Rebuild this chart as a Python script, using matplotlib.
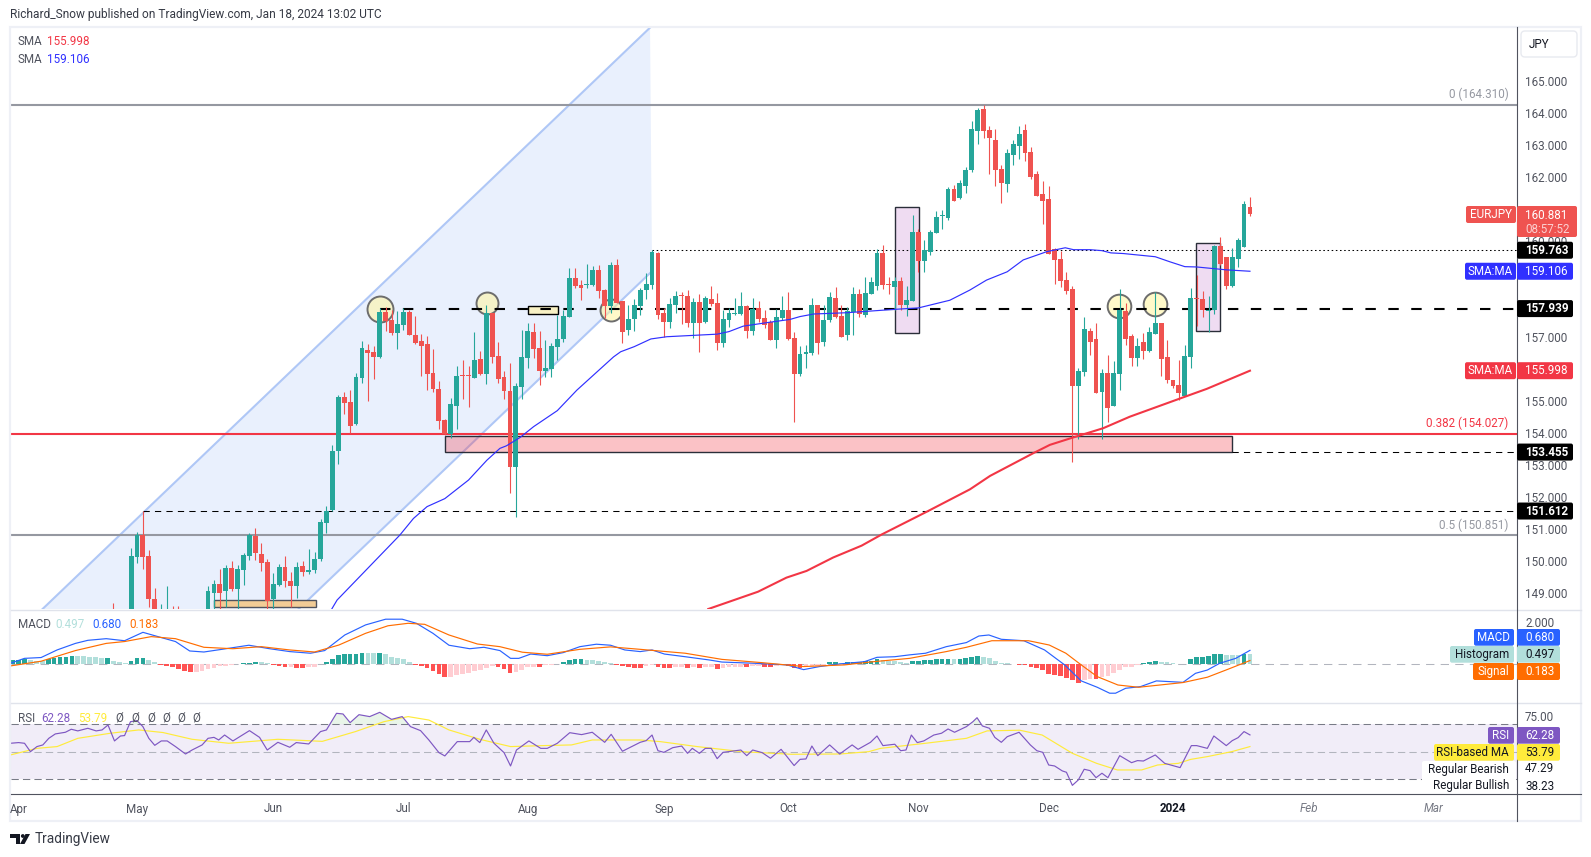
import numpy as np
import matplotlib
matplotlib.use('Agg')
import matplotlib.pyplot as plt
from matplotlib.patches import Rectangle, FancyBboxPatch, Polygon, Circle
from matplotlib.colors import to_rgba

W, H = 1591, 857
UP, DOWN = '#26a69a', '#ef5350'

# candles, one per weekday; index 0 is Apr 3 2023, first one listed here is index 16
first_candle = 16
opens = [
    148.0, 147.7, 147.9, 148.2,
    150.19, 150.86, 150.21, 148.86, 148.0, 148.1, 148.5, 148.3, 148.0, 147.5,
    147.2, 147.7, 148.2, 149.06, 149.33, 149.12, 149.83, 149.18, 149.77, 150.22,
    150.84, 150.27, 150.02, 148.85, 149.30, 149.86, 149.43, 149.28, 149.89, 149.72,
    149.77, 150.11, 151.25, 151.64, 153.49, 155.18, 155.02, 154.33, 155.77, 156.65,
    156.58, 156.43, 157.83, 157.58, 157.18, 157.43, 157.83, 157.11, 156.92, 156.83,
    155.93, 155.42, 154.46, 154.02, 154.89, 155.86, 155.86, 155.77, 156.36, 155.89,
    157.80, 156.46, 155.80, 155.36, 152.99, 155.49, 156.39, 157.20, 156.71, 155.99,
    156.05, 156.74, 156.99, 157.68, 158.89, 158.68, 158.68, 158.68, 159.14, 158.52,
    158.02, 159.30, 158.18, 157.27, 157.61, 158.02, 158.52, 158.68, 159.68, 157.80,
    157.52, 158.05, 158.36, 158.33, 157.49, 158.14, 157.52, 158.24, 158.11, 156.86,
    157.58, 157.77, 157.77, 158.02, 157.24, 157.96, 157.64, 157.52, 156.96, 157.64,
    157.89, 157.02, 155.89, 156.52, 156.55, 158.05, 156.89, 157.58, 158.27, 157.71,
    157.11, 157.83, 158.39, 157.74, 158.39, 158.64, 159.68, 158.71, 158.61, 158.80,
    158.05, 158.18, 160.33, 159.43, 159.71, 160.30, 160.83, 160.77, 161.68, 161.40,
    161.77, 162.27, 163.49, 164.18, 163.52, 163.21, 162.30, 161.83, 162.74, 163.02,
    163.52, 162.83, 162.15, 161.52, 161.36, 159.80, 159.49, 158.83, 158.55, 155.52,
    155.96, 157.24, 156.99, 155.33, 155.92, 154.89, 155.89, 157.86, 157.08, 156.39,
    156.89, 156.61, 157.14, 157.49, 156.42, 155.71, 155.55, 155.20, 156.43, 158.27,
    158.24, 157.86, 157.89, 159.90, 159.55, 158.64, 159.49, 159.87, 161.11]
closes = [
    147.7, 147.9, 148.2, 150.21,
    150.86, 150.19, 148.86, 148.4, 148.5, 148.55, 148.3, 148.0, 147.5, 147.2,
    147.7, 148.2, 149.11, 149.33, 149.06, 149.83, 149.18, 149.80, 150.24, 150.86,
    150.31, 150.00, 148.8, 149.33, 149.86, 149.43, 149.28, 149.86, 149.72, 149.77,
    150.11, 151.27, 151.61, 153.49, 155.18, 154.99, 154.27, 155.80, 156.71, 156.55,
    156.43, 157.83, 157.55, 157.18, 157.46, 157.83, 157.11, 156.86, 156.77, 155.89,
    155.42, 154.42, 154.02, 154.96, 155.83, 155.83, 155.83, 156.33, 155.89, 157.80,
    156.43, 155.74, 155.36, 152.99, 155.52, 156.43, 157.24, 156.68, 155.99, 156.08,
    156.77, 156.99, 157.70, 158.89, 158.64, 158.58, 158.70, 159.14, 158.49, 158.02,
    159.30, 158.11, 157.21, 157.60, 158.05, 158.52, 158.70, 159.71, 157.74, 157.52,
    158.08, 158.33, 158.33, 157.49, 158.14, 157.49, 158.27, 158.08, 156.86, 157.61,
    157.80, 157.80, 158.02, 157.24, 157.93, 157.61, 157.43, 156.96, 157.68, 157.89,
    156.99, 155.89, 156.52, 156.58, 158.05, 156.86, 157.58, 158.30, 157.68, 157.05,
    157.86, 158.39, 157.77, 158.43, 158.77, 159.68, 158.68, 158.68, 158.80, 158.05,
    158.21, 160.33, 159.43, 159.77, 160.33, 160.80, 160.86, 161.68, 161.30, 161.86,
    162.27, 163.55, 164.15, 163.49, 163.27, 162.27, 161.86, 162.80, 163.08, 163.40,
    162.80, 162.05, 161.46, 161.30, 159.65, 159.46, 158.80, 158.49, 155.52, 155.99,
    157.30, 156.89, 155.30, 155.92, 154.83, 155.92, 157.90, 156.99, 156.39, 156.77,
    156.61, 157.21, 157.49, 156.36, 155.71, 155.52, 155.30, 156.46, 158.27, 158.24,
    157.89, 157.89, 159.90, 159.33, 158.64, 159.55, 160.08, 161.21, 160.881]
highs = [
    148.75, 148.2, 148.4, 150.45,
    150.95, 151.612, 150.39, 149.2, 148.7, 149.27, 148.65, 148.65, 148.3, 147.9,
    147.8, 148.3, 149.27, 149.46, 149.80, 149.92, 150.05, 149.92, 150.31, 150.92,
    151.08, 150.61, 150.11, 149.68, 149.96, 150.21, 149.72, 150.02, 150.05, 150.43,
    150.33, 151.36, 151.77, 153.68, 155.24, 155.33, 155.40, 155.93, 156.93, 156.83,
    156.77, 157.95, 157.99, 157.90, 157.86, 157.96, 157.91, 157.71, 157.16, 157.08,
    156.68, 155.67, 154.49, 155.14, 156.14, 156.33, 156.14, 157.21, 156.61, 158.05,
    157.80, 156.89, 155.99, 156.24, 155.61, 157.27, 157.49, 157.49, 157.24, 156.95,
    156.86, 157.74, 157.89, 159.21, 159.21, 158.83, 159.33, 159.27, 159.30, 158.55,
    159.39, 159.49, 158.18, 158.05, 158.24, 158.58, 159.05, 159.77, 159.71, 157.96,
    158.27, 158.49, 158.46, 158.52, 158.27, 158.39, 158.33, 158.65, 158.43, 157.89,
    157.96, 158.27, 158.46, 158.05, 158.27, 158.18, 157.89, 157.58, 157.93, 158.33,
    158.46, 157.21, 156.77, 156.80, 158.27, 158.05, 158.05, 158.46, 158.61, 158.05,
    157.99, 158.61, 158.55, 158.93, 158.93, 159.80, 159.93, 158.93, 158.93, 158.93,
    158.64, 160.86, 160.43, 160.08, 160.40, 160.99, 161.02, 161.74, 161.80, 161.96,
    162.37, 163.80, 164.21, 164.31, 163.65, 163.55, 162.43, 162.93, 163.21, 163.65,
    163.71, 162.99, 162.24, 161.93, 161.77, 159.83, 159.74, 159.08, 158.64, 156.08,
    157.68, 157.33, 157.49, 156.05, 156.49, 156.30, 158.55, 158.11, 157.14, 157.02,
    157.18, 157.36, 158.46, 157.49, 156.96, 155.71, 156.33, 156.80, 158.58, 158.99,
    158.49, 158.33, 159.93, 160.18, 159.55, 159.83, 160.15, 161.30, 161.43]
lows = [
    147.6, 147.4, 147.7, 148.0,
    150.00, 149.80, 148.6, 148.3, 147.8, 147.9, 148.0, 147.9, 147.3, 147.0,
    147.0, 147.5, 148.2, 148.5, 148.4, 148.6, 149.12, 148.4, 149.30, 150.08,
    150.08, 149.75, 148.55, 148.55, 149.27, 149.25, 148.6, 148.9, 149.59, 149.64,
    149.69, 150.05, 150.92, 151.62, 153.08, 154.65, 154.04, 154.30, 155.61, 155.05,
    155.74, 156.40, 157.24, 157.1, 156.68, 157.27, 157.11, 156.83, 155.83, 155.39,
    155.33, 154.17, 153.99, 153.89, 154.17, 155.11, 154.86, 155.77, 155.86, 155.58,
    156.24, 155.61, 155.11, 152.17, 151.42, 155.11, 156.08, 156.39, 155.55, 155.80,
    155.80, 156.33, 156.89, 157.68, 158.58, 158.21, 158.58, 158.64, 158.27, 157.64,
    157.79, 158.11, 156.86, 157.11, 157.24, 157.74, 158.24, 158.55, 157.61, 157.05,
    157.33, 157.80, 157.46, 157.36, 157.02, 156.58, 157.49, 158.02, 156.64, 156.74,
    157.36, 157.74, 157.74, 157.02, 157.11, 157.52, 157.33, 156.96, 156.71, 157.58,
    156.96, 154.39, 155.83, 156.08, 156.49, 156.52, 156.77, 157.52, 157.64, 157.05,
    156.96, 157.11, 157.68, 157.68, 158.39, 158.52, 158.55, 158.39, 157.89, 157.89,
    157.71, 158.18, 159.08, 159.08, 159.61, 160.30, 160.43, 160.71, 161.30, 161.36,
    161.55, 162.21, 163.08, 163.27, 162.15, 161.77, 161.24, 161.58, 162.43, 162.61,
    162.55, 161.99, 161.46, 160.58, 159.65, 158.71, 158.61, 158.39, 153.14, 153.86,
    155.83, 156.49, 155.30, 153.86, 154.39, 154.89, 155.39, 156.80, 156.14, 156.14,
    156.36, 156.58, 157.14, 155.83, 155.61, 155.46, 155.08, 155.20, 156.08, 157.39,
    157.68, 157.21, 157.77, 159.30, 158.55, 158.61, 159.24, 159.87, 160.83]

sma50_idx = [52.9, 53.8, 64.4, 66.7, 69, 72, 76, 79.1, 81.3, 82.4, 84.7, 87, 91, 94.3, 100.5, 101.7,
             104, 106.8, 109.5, 118, 120, 122.4, 126.4, 130.3, 132, 134.3, 139.9, 148.4, 152,
             157.3, 160.7, 163.5, 167, 169.7, 173.7, 176.8, 178.2, 181, 183, 184.5, 186.6, 192,
             194.5, 197, 199, 204, 208]
sma50 = [148.55, 148.83, 150.86, 151.38, 151.75, 152.0, 152.58, 153.2, 153.57, 153.65, 153.91, 154.25,
         154.75, 155.39, 156.43, 156.59, 156.75, 156.99, 157.06, 157.14, 157.22, 157.39, 157.5, 157.6,
         157.69, 157.77, 157.81, 157.92, 157.96, 158.2, 158.52, 158.83, 159.09, 159.46, 159.72, 159.84,
         159.78, 159.78, 159.75, 159.68, 159.66, 159.56, 159.4, 159.25, 159.24, 159.15, 159.106]

sma200_idx = [116.5, 124.9, 129.7, 133.1, 137.6, 142.4, 145.8, 153.4, 160.7, 164.1, 171.4, 174.2, 177.6,
              183.2, 187.7, 196.2, 200.7, 208]
sma200 = [148.55, 149.09, 149.53, 149.74, 150.16, 150.53, 150.88, 151.59, 152.29, 152.71, 153.42, 153.68,
          153.88, 154.2, 154.56, 155.13, 155.43, 155.998]

macd_idx = [-1.4, 1, 3.8, 6.5, 9.6, 11.7, 14.8, 17.9, 21, 24.4, 26.5, 28.9, 31.3, 34.1, 38.9, 42.4, 45.8,
            49.3, 51.7, 55.1, 58.6, 62, 64.8, 67.2, 70, 72.7, 76.2, 78.6, 81.3, 83.1, 84.5, 86.5, 89.3,
            92, 94.8, 97.6, 100, 102.4, 105, 107, 109.1, 112.6, 116.7, 118.8, 124.3, 129.8, 132.6, 135.3,
            138.8, 142.9, 145, 148, 150.5, 153.2, 156.7, 160.1, 162.2, 163.9, 166, 169.8, 173.3, 176.7,
            179.5, 182.2, 184.3, 185.3, 187, 189.5, 192.2, 196.7, 198.8, 200.8, 202.9, 205.6, 208]
macd_line = [0.05, 0.29, 0.33, 0.70, 1.02, 1.17, 1.25, 1.15, 1.56, 1.28, 1.11, 0.65, 0.60, 0.72, 0.93, 0.76,
             0.62, 0.54, 0.67, 1.43, 1.92, 2.2, 2.2, 2.0, 1.51, 0.93, 0.76, 0.83, 0.67, 0.29, 0.29, 0.50,
             0.42, 0.57, 0.86, 0.98, 0.93, 0.70, 0.62, 0.70, 0.50, 0.37, 0.21, 0.11, 0.05, -0.03, -0.26,
             -0.11, 0.02, 0.13, 0.34, 0.37, 0.46, 0.54, 0.86, 1.06, 1.38, 1.43, 1.22, 1.15, 0.70, -0.03,
             -0.81, -1.12, -1.41, -1.41, -1.17, -1.09, -0.81, -0.88, -0.44, -0.28, 0.05, 0.29, 0.680]

signal_idx = [-1.4, 3.8, 9.6, 14.8, 17.9, 22.4, 26.5, 31.3, 36.2, 41, 45.8, 50, 54.1, 58.6, 62.4, 65.8, 68.6,
              72.7, 77.5, 81.3, 85.1, 89.3, 94.8, 100, 105, 112.6, 118.8, 125.6, 132.6, 139.5, 144.5, 150.5,
              156.7, 160.1, 164.4, 170.6, 174.1, 176.9, 179.5, 182.2, 185.7, 189.2, 196.7, 200.8, 204.3, 208]
signal_line = [-0.08, 0.15, 0.67, 1.02, 1.11, 1.35, 1.25, 0.83, 0.76, 0.86, 0.70, 0.60, 0.94, 1.51, 1.88, 2.0,
               1.95, 1.43, 0.99, 0.86, 0.59, 0.49, 0.73, 0.85, 0.73, 0.54, 0.24, 0.08, -0.11, -0.03, 0.13, 0.29,
               0.62, 0.83, 1.15, 1.15, 0.94, 0.54, -0.03, -0.60, -1.01, -1.12, -0.89, -0.63, -0.24, 0.183]

# histogram bars from index -1 up to the last candle
macd_hist = [
    0.20, 0.22, 0.24, 0.20, 0.15, 0.14, 0.24, 0.30, 0.35, 0.38, 0.42,
    0.40, 0.39, 0.37, 0.35, 0.30, 0.31, 0.16, 0.12, 0.07, 0.16,
    0.30, 0.33, 0.22, 0.10, -0.04, -0.10, -0.15, -0.23, -0.35, -0.37,
    -0.36, -0.33, -0.25, -0.18, -0.10, -0.08, -0.04, 0.03, 0.05, 0.07,
    0.10, 0.09, 0.06, -0.02, -0.10, -0.13, -0.12, -0.17, -0.18, -0.13,
    -0.12, 0.03, 0.12, 0.26, 0.46, 0.49, 0.50, 0.51, 0.55, 0.54,
    0.53, 0.54, 0.48, 0.37, 0.30, 0.24, 0.10, -0.03, -0.08, -0.18,
    -0.33, -0.46, -0.62, -0.61, -0.52, -0.46, -0.40, -0.33, -0.26, -0.20,
    -0.10, -0.13, -0.22, -0.41, -0.36, -0.28, -0.15, -0.12, -0.13, -0.05,
    -0.03, 0.02, 0.10, 0.22, 0.24, 0.26, 0.23, 0.20, 0.15, 0.12,
    0.07, -0.04, -0.10, -0.15, -0.17, -0.18, -0.10, -0.05, -0.12, -0.17,
    -0.18, -0.14, -0.13, -0.18, -0.15, -0.17, -0.14, -0.12, -0.22, -0.18,
    -0.15, -0.13, -0.12, -0.14, -0.09, -0.07, -0.12, -0.13, -0.08, -0.05,
    -0.08, -0.16, -0.18, -0.10, -0.07, -0.06, -0.03, 0.10, 0.12, 0.08,
    0.11, 0.12, 0.13, 0.15, 0.15, 0.26, 0.20, 0.18, 0.16, 0.12,
    0.06, 0.17, 0.18, 0.20, 0.22, 0.24, 0.26, 0.28, 0.26, 0.27,
    0.30, 0.36, 0.41, 0.38, 0.33, 0.18, 0.08, 0.04, 0.01, -0.01,
    -0.05, -0.13, -0.20, -0.28, -0.45, -0.50, -0.57, -0.65, -0.76, -0.89,
    -0.76, -0.70, -0.73, -0.62, -0.55, -0.43, -0.27, -0.15, -0.13, -0.03,
    0.06, 0.09, 0.16, 0.13, 0.10, 0.07, 0.03, 0.02, 0.26, 0.36,
    0.38, 0.39, 0.50, 0.51, 0.45, 0.44, 0.43, 0.52, 0.497]

rsi_idx = [-1.4, 0, 1, 2, 3.1, 4.1, 5.1, 6.2, 7.9, 8.9, 10, 11.7, 13.1, 14.1, 15.1, 16.2, 17.2, 17.9, 18.9, 20,
           21, 22, 23, 24.1, 25.1, 26.5, 28.2, 29.3, 31, 32, 33, 33.8, 34.8, 36.2, 39, 40.7, 42, 43.8, 45.8,
           46.9, 49, 51, 52, 53.7, 54.8, 56, 57.5, 59.3, 61, 63, 64.8, 66.2, 67.9, 69.3, 71, 72, 74.1, 76.2,
           76.9, 77.9, 79, 80.3, 82, 83.1, 84.1, 86.2, 88.2, 89.3, 91, 93.1, 95.1, 96.9, 99, 100.1, 102, 105,
           106, 107, 108, 109, 110.5, 112, 113, 113.8, 115, 116, 117, 118, 119, 122, 123, 124, 125.6, 127,
           128.8, 131, 132, 133, 134, 135, 137, 138.7, 140.8, 141.8, 143.9, 145, 146, 148, 149, 149.9, 150.8,
           151.8, 152.9, 154.6, 155.9, 157, 158.1, 160.1, 161.2, 161.9, 162.8, 164, 164.9, 166, 167, 169,
           170.9, 172, 173, 174, 175, 176.3, 177, 178, 179, 180, 181, 182, 183, 184, 186, 188, 189, 190, 192,
           193.6, 196.2, 198.1, 199, 200.8, 201.9, 204, 205, 206, 207, 208]
rsi_line = [56.2, 56.7, 56.2, 50.1, 53.8, 55, 59.8, 63, 64.2, 66.4, 65.2, 67.1, 65.2, 65.9, 69.5, 57.9, 61.5, 61.8,
            71.9, 72.7, 68.3, 59.8, 54.7, 57.9, 57.9, 53.8, 48.4, 51.3, 55, 59.8, 60.5, 58.6, 62.2, 57.9, 65.4,
            60.5, 51.3, 56.9, 53.3, 56.7, 55.7, 64.7, 65.9, 78, 77.5, 71.2, 77, 75.6, 78.7, 73.6, 75.6, 68.3,
            65.4, 58.6, 49.4, 47, 57.4, 57.4, 60.5, 56.7, 65.9, 56.2, 49.4, 39.7, 51.3, 57.9, 52.5, 52.5, 56.2,
            63.9, 62.5, 64.2, 56.9, 62.7, 50.4, 56.9, 58.1, 62.2, 50.8, 49.6, 53, 54.2, 48.9, 52.5, 48.9, 52.5,
            52.5, 45, 49.6, 51.3, 47.2, 51.3, 49.4, 45.3, 51.8, 40, 44.5, 44.8, 54.2, 47.2, 55, 48.4, 55, 51.8,
            56.9, 61.5, 54.5, 55.5, 50.8, 51.3, 62.2, 56.7, 57.9, 62.2, 63.5, 66.6, 64.2, 68.3, 71.9, 74.8, 68.8,
            67.1, 60.5, 56.9, 61, 64.2, 55, 50.8, 49.6, 40.4, 39.7, 36.1, 35.1, 25.6, 29.5, 37.3, 36.3, 31.2,
            34.4, 31.2, 47.2, 42.1, 43.6, 43.3, 47.7, 41.6, 38.5, 54.5, 54.5, 52.5, 61.5, 54.5, 58.1, 60.3, 64.7,
            62.28]

rsi_ma_idx = [-1.4, 3.1, 6.5, 10, 15.5, 20.3, 24.4, 29.3, 35.5, 43.8, 51.3, 56.9, 61.7, 65.8, 69.3, 72.7, 77.9,
              83.1, 88.6, 93.4, 96.9, 105, 108.4, 114.6, 122.2, 130.5, 138.8, 143.6, 145.6, 153.2, 160.1, 163.6,
              169.1, 172.9, 178, 182.1, 185.6, 189.7, 192.4, 195.9, 198, 200.8, 204.9, 208]
rsi_ma = [47.7, 52.5, 53.8, 59.8, 63.5, 65.9, 64, 59.1, 56.2, 59.1, 57.6, 64.7, 71.9, 75.6, 73.1, 65.9, 59.1, 53.8,
          54.5, 55, 58.6, 58.6, 57.4, 53.8, 50.1, 48.2, 48.4, 50.1, 52.5, 56.2, 59.8, 65.2, 65.7, 62.2, 48.9, 41.6,
          36.8, 36.8, 40.4, 41.6, 44.5, 46.5, 50.1, 53.79]

month_idx = [0, 20, 43, 65, 86, 109, 130, 152, 174, 195, 218, 239]
month_labels = ['Apr', 'May', 'Jun', 'Jul', 'Aug', 'Sep', 'Oct', 'Nov', 'Dec', '2024', 'Feb', 'Mar']

price_ticks = [165, 164, 163, 162, 160, 157, 155, 154, 153, 152, 151, 150, 149]

plt.rcParams['font.family'] = ['Roboto', 'DejaVu Sans']
FS = 8.4
GREY_TXT = '#50535e'

fig = plt.figure(figsize=(W / 100, H / 100), dpi=100, facecolor='white')


def add_panel(top, bottom, ylim):
    ax = fig.add_axes([11 / W, 1 - bottom / H, (1517 - 11) / W, (bottom - top) / H])
    ax.set_xlim((11 - 18.6) / 5.92, (1517 - 18.6) / 5.92)
    ax.set_ylim(*ylim)
    ax.axis('off')
    return ax


ax = add_panel(27, 609, (148.55, 166.74))
ax_macd = add_panel(609.5, 702.5, ((664.3 - 702.5) / 20.5, (664.3 - 609.5) / 20.5))
ax_rsi = add_panel(702.5, 794, (70 - (794 - 724.3) / 1.375, 70 + (724.3 - 702.5) / 1.375))
x_left, x_right = ax.get_xlim()

# channel
ch_upper_x, ch_upper_y = [4.05, 106.66], [148.55, 166.72]
ch_lower_x, ch_lower_y = [47.3, 107.0], [148.55, 159.11]
ax.add_patch(Polygon([(ch_upper_x[0], ch_upper_y[0]), (ch_upper_x[1], ch_upper_y[1]),
                      (ch_lower_x[1], ch_lower_y[1]), (ch_lower_x[0], ch_lower_y[0])],
                     closed=True, facecolor='#e9f0fd', edgecolor='none', zorder=1))
ax.plot(ch_upper_x, ch_upper_y, color='#afc7f6', lw=1.5, zorder=2)
ax.plot(ch_lower_x, ch_lower_y, color='#afc7f6', lw=1.5, zorder=2)

# boxes drawn on the price chart
ax.add_patch(Rectangle((148.0, 157.18), 4.1, 3.93, facecolor=to_rgba('#9c27b0', 0.16), edgecolor='#2a2e39', lw=1, zorder=3))
ax.add_patch(Rectangle((198.9, 157.24), 4.0, 2.75, facecolor=to_rgba('#9c27b0', 0.16), edgecolor='#2a2e39', lw=1, zorder=3))
ax.add_patch(Rectangle((72.1, 153.455), 132.9, 0.495, facecolor=to_rgba('#f23645', 0.3), edgecolor='#2a2e39', lw=1, zorder=3))
ax.add_patch(Rectangle((86.05, 157.77), 5.05, 0.25, facecolor='#f8f1c4', edgecolor='black', lw=1, zorder=3))
ax.add_patch(Rectangle((33, 148.61), 17.2, 0.22, facecolor='#f2cc96', edgecolor='#50535e', lw=1, zorder=3))

ax.scatter([61.05], [157.92], s=350, facecolor=to_rgba('#fff59d', 0.55), edgecolor='#6d6d6d', lw=1.4, zorder=3)
ax.scatter([79.07, 100.07], [158.11, 157.9], s=250, facecolor=to_rgba('#fff59d', 0.55), edgecolor='#6d6d6d', lw=1.4, zorder=3)
ax.scatter([185.9, 192], [158.02, 158.08], s=290, facecolor=to_rgba('#fff59d', 0.55), edgecolor='#6d6d6d', lw=1.4, zorder=3)

# horizontal levels
ax.hlines(164.31, x_left, x_right, color='#9598a1', lw=1.5, zorder=4)
ax.hlines(150.851, x_left, x_right, color='#9598a1', lw=1.5, zorder=4)
ax.hlines(154.027, x_left, x_right, color='#f23645', lw=1.5, zorder=4)
ax.plot([61, x_right], [157.939, 157.939], color='black', lw=1.5, ls=(0, (5, 6)), zorder=4)
ax.plot([107, x_right], [159.763, 159.763], color='black', lw=0.75, ls=(0, (1.5, 2.5)), zorder=4)
ax.plot([205, x_right], [153.455, 153.455], color='black', lw=0.75, ls=(0, (6, 5)), zorder=4)
ax.plot([21, x_right], [151.612, 151.612], color='black', lw=0.75, ls=(0, (6, 5)), zorder=4)

# candles
idx = np.arange(first_candle, first_candle + len(opens))
o, c, h, l = map(np.array, (opens, closes, highs, lows))
colors = [UP if c[k] >= o[k] else DOWN for k in range(len(o))]
ax.vlines(idx, l, h, colors=colors, lw=0.8, zorder=5)
ax.bar(idx, np.abs(c - o), bottom=np.minimum(o, c), width=0.82, color=colors, lw=0, zorder=5)

ax.plot(sma50_idx, sma50, color='#3030ff', lw=0.85, zorder=6)
ax.plot(sma200_idx, sma200, color='#f23645', lw=1.5, zorder=6)

# macd
hist_idx = np.arange(-1, -1 + len(macd_hist))
hist_colors = []
for k, v in enumerate(macd_hist):
    prev = macd_hist[k - 1] if k else v
    if v >= 0:
        hist_colors.append('#26a69a' if v >= prev else '#b2dfdb')
    else:
        hist_colors.append('#ff5252' if v <= prev else '#ffcdd2')
ax_macd.bar(hist_idx, macd_hist, width=0.8, color=hist_colors, lw=0, zorder=2)
ax_macd.plot([x_left, x_right], [0, 0], color='#b2b5be', lw=0.75, ls=(0, (8, 6)), zorder=1)
ax_macd.plot(macd_idx, macd_line, color='#2962ff', lw=0.85, zorder=3)
ax_macd.plot(signal_idx, signal_line, color='#ff6d00', lw=0.85, zorder=3)

# rsi
ax_rsi.axhspan(30, 70, color='#7e57c2', alpha=0.1, lw=0, zorder=1)
ri = np.array(rsi_idx)
rv = np.array(rsi_line)
ax_rsi.fill_between(ri, rv, 70, where=rv > 70, interpolate=True, color='#4caf50', alpha=0.12, lw=0, zorder=1)
for lvl, col in ((70, '#787b86'), (50, '#b2b5be'), (30, '#787b86')):
    ax_rsi.plot([x_left, x_right], [lvl, lvl], color=col, lw=0.75, ls=(0, (7, 4)), zorder=2)
ax_rsi.plot(rsi_ma_idx, rsi_ma, color='#ffeb3b', lw=0.85, zorder=3)
ax_rsi.plot(rsi_idx, rsi_line, color='#7e57c2', lw=0.85, zorder=4)

# frame, labels and everything else on a pixel overlay
ov = fig.add_axes([0, 0, 1, 1], zorder=10)
ov.set_xlim(0, W)
ov.set_ylim(H, 0)
ov.axis('off')
ov.patch.set_alpha(0)

ov.add_patch(Rectangle((10, 26.5), 1571, 794.5, fill=False, edgecolor='#eef0f6', lw=1.6))
ov.plot([11, 1581], [609.5, 609.5], color='#e0e3eb', lw=1)
ov.plot([11, 1581], [702.5, 702.5], color='#e0e3eb', lw=1)
ov.plot([11, 1581], [794, 794], color='#50535e', lw=0.8)
ov.plot([1517, 1517], [27, 821], color='#50535e', lw=0.8)


def price_px(axis, value):
    return H - axis.transData.transform((0, value))[1]


def idx_px(value):
    return ax.transData.transform((value, 0))[0]


def box(x0, x1, y0, y1, color):
    ov.add_patch(FancyBboxPatch((x0, y0), x1 - x0, y1 - y0, boxstyle='round,pad=0,rounding_size=2',
                                facecolor=color, edgecolor='none', zorder=2))


def label(x, y, s, color=GREY_TXT, ha='left', size=FS, **kw):
    kw.setdefault('zorder', 3)
    ov.text(x, y, s, color=color, ha=ha, va='center', fontsize=size, **kw)


# scale ticks go under the price boxes, as some of them are covered
for p in price_ticks:
    label(1525, price_px(ax, p), '%.3f' % p, zorder=1)
label(1525, price_px(ax_macd, 2), '2.000', zorder=1)
label(1525, price_px(ax_rsi, 75), '75.00', zorder=1)

for m, lab in zip(month_idx, month_labels):
    if lab == '2024':
        label(idx_px(m), 809, lab, color='#131722', ha='center', fontweight='bold')
    elif lab in ('Feb', 'Mar'):
        label(idx_px(m), 809, lab, color='#787b86', ha='center', style='italic')
    else:
        label(idx_px(m), 809, lab, ha='center')

# price labels on the scale
box(1466, 1516, 206, 223, '#ef5350')
label(1491, 214.5, 'EURJPY', color='white', ha='center')
box(1517, 1577, 206, 237, '#ef5350')
label(1525, 215, '160.881', color='white')
label(1525, 229, '08:57:52', color='#fbd0d0')

for pv, txt in ((159.763, '159.763'), (157.939, '157.939'), (153.455, '153.455'), (151.612, '151.612')):
    yc = price_px(ax, pv)
    box(1517, 1573, yc - 8.5, yc + 8.5, 'black')
    label(1525, yc, txt, color='white', fontweight='bold')

for pv, txt, col in ((159.106, '159.106', '#3030ff'), (155.998, '155.998', '#f23645')):
    yc = price_px(ax, pv)
    box(1465, 1516, yc - 8.5, yc + 8.5, col)
    label(1490.5, yc, 'SMA:MA', color='white', ha='center')
    box(1517, 1573, yc - 8.5, yc + 8.5, col)
    label(1525, yc, txt, color='white')

box(1474, 1514, 629, 645.7, '#2962ff')
label(1510, 637.5, 'MACD', color='white', ha='right')
box(1517, 1560, 629, 645.7, '#2962ff')
label(1525, 637.5, '0.680', color='white')
box(1450, 1514, 646, 662.7, '#b2dfdb')
label(1509, 654.5, 'Histogram', color='#131722', ha='right')
box(1517, 1560, 646, 662.7, '#b2dfdb')
label(1525, 654.5, '0.497', color='#131722')
box(1473, 1514, 663, 680, '#ff6d00')
label(1509, 671.5, 'Signal', color='white', ha='right')
box(1517, 1560, 663, 680, '#ff6d00')
label(1525, 671.5, '0.183', color='white')

box(1488, 1514, 727, 743.7, '#7e57c2')
label(1509, 735.5, 'RSI', color='white', ha='right')
box(1517, 1560, 727, 743.7, '#7e57c2')
label(1525, 735.5, '62.28', color='white')
box(1434, 1514, 744, 760.7, '#ffeb3b')
label(1509, 752.5, 'RSI-based MA', color='#131722', ha='right')
box(1517, 1560, 744, 760.7, '#ffeb3b')
label(1525, 752.5, '53.79', color='#131722')
box(1422, 1516, 761, 793, 'white')
label(1509, 769, 'Regular Bearish', color='#131722', ha='right')
label(1525, 769, '47.29', color='#131722')
label(1509, 786, 'Regular Bullish', color='#131722', ha='right')
label(1525, 786, '38.23', color='#131722')

# fib labels
label(1508.7, 94.7, '0 (164.310)', color='#9598a1', ha='right')
label(1508.7, 423, '0.382 (154.027)', color='#f23645', ha='right')
label(1508.7, 525, '0.5 (150.851)', color='#9598a1', ha='right')

# JPY button
ov.add_patch(FancyBboxPatch((1521, 31), 56, 26, boxstyle='round,pad=0,rounding_size=4',
                            facecolor='white', edgecolor='#e8eaf0', lw=1))
label(1539, 44.5, 'JPY', color='#131722', ha='center')

# legends
label(18, 41.5, 'SMA', color=GREY_TXT)
label(47, 41.5, '155.998', color='#f23645')
label(18, 59, 'SMA', color=GREY_TXT)
label(47, 59, '159.106', color='#3030ff')

label(18, 625, 'MACD', color=GREY_TXT)
label(55, 625, '0.497', color='#b2dfdb')
label(92, 625, '0.680', color='#2962ff')
label(129, 625, '0.183', color='#ff6d00')

label(18, 718, 'RSI', color=GREY_TXT)
label(41.6, 718, '62.28', color='#7e57c2')
label(78, 718, '53.79', color='#ffeb3b')
for xp in (115.5, 131, 147, 162, 177.5, 192.6):
    label(xp, 718, '\u00d8', color=GREY_TXT)

label(10, 14.5, 'Richard_Snow published on TradingView.com, Jan 18, 2024 13:02 UTC', color='#363a45', size=8.6)
label(35, 839.5, 'TradingView', color='#363a45', size=9.8)

# logo
ov.add_patch(Polygon([(10, 834), (20, 834), (20, 844), (16, 844), (16, 838), (10, 838)], closed=True, facecolor='#131722', edgecolor='none'))
ov.add_patch(Circle((22.8, 836), 1.9, facecolor='#131722', edgecolor='none'))
ov.add_patch(Polygon([(25.5, 834), (30, 834), (24.5, 844), (20, 844)], closed=True, facecolor='#131722', edgecolor='none'))

fig.savefig('out.png', dpi=100)
